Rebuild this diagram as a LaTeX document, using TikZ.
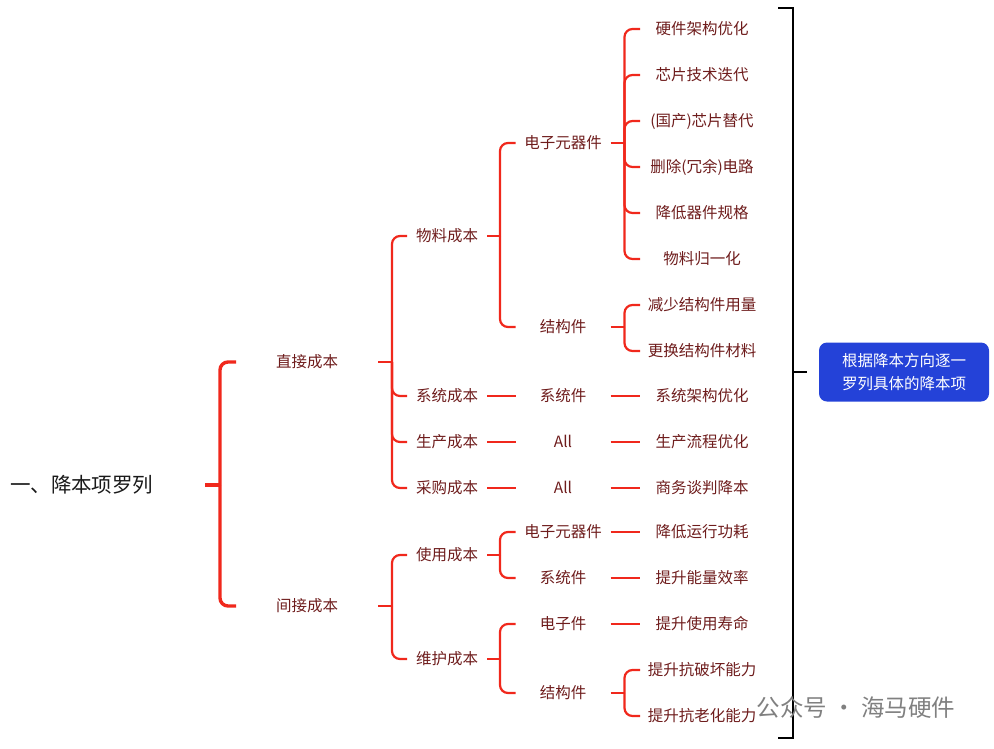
\documentclass[tikz,border=0pt]{standalone}
\usepackage{fontspec}
\setmainfont{Noto Sans CJK SC}
\usetikzlibrary{positioning}

\definecolor{linered}{RGB}{240,40,28}
\definecolor{textred}{RGB}{110,28,28}
\definecolor{noteblue}{RGB}{36,66,216}

\tikzset{
  branch/.style={draw=linered, line width=2.2pt, rounded corners=8pt},
  topic/.style={inner sep=0pt, outer sep=0pt, minimum height=26pt,
    text height=13pt, text depth=2pt, text=textred,
    font=\fontsize{15.5}{18}\selectfont},
  rootnode/.style={inner sep=0pt, outer sep=0pt, text width=195pt, align=left,
    text=black!90, font=\fontsize{20.5}{24}\selectfont},
  lvlone/.style={topic, minimum width=142pt},
  lvltwo/.style={topic, minimum width=80pt},
  lvlthree/.style={topic, minimum width=95pt},
  leaf/.style={topic, minimum width=124pt},
  note/.style={fill=noteblue, text=white, rounded corners=8pt, inner sep=0pt,
    minimum width=170pt, minimum height=59pt, align=center,
    font=\fontsize{15.5}{23}\selectfont},
  bkline/.style={draw=black, line width=2.2pt},
}

\begin{document}
\begin{tikzpicture}[x=1pt, y=-1pt]
  \useasboundingbox (0,0) rectangle (994,748);

  % root and first level
  \node[rootnode, anchor=west] (root) at (10,485) {一、降本项罗列};
  \node[lvlone] (zjcb) at (307,362) {直接成本};
  \node[lvlone] (jjcb) at (307,606) {间接成本};

  % direct cost
  \node[lvltwo] (wlcb) at (447,236) {物料成本};
  \node[lvltwo] (xtcb) at (447,396) {系统成本};
  \node[lvltwo] (sccb) at (447,442) {生产成本};
  \node[lvltwo] (cgcb) at (447,488) {采购成本};

  \node[lvlthree] (dzyqj) at (563,143) {电子元器件};
  \node[lvlthree] (jgj)   at (563,327) {结构件};
  \node[lvlthree] (xtj)   at (563,396) {系统件};
  \node[lvlthree] (scall) at (563,442) {All};
  \node[lvlthree] (cgall) at (563,488) {All};

  \node[leaf] (yj) at (702,29) {硬件架构优化};
  \node[leaf, below=20pt of yj] (xp) {芯片技术迭代};
  \node[leaf, below=20pt of xp] (gc) {(国产)芯片替代};
  \node[leaf, below=20pt of gc] (sc) {删除(冗余)电路};
  \node[leaf, below=20pt of sc] (jd) {降低器件规格};
  \node[leaf, below=20pt of jd] (gy) {物料归一化};
  \node[leaf, below=20pt of gy] (jsyl) {减少结构件用量};
  \node[leaf, below=20pt of jsyl] (ghcl) {更换结构件材料};
  \node[leaf, below=19pt of ghcl] (xtyh) {系统架构优化};
  \node[leaf, below=20pt of xtyh] (lcyh) {生产流程优化};
  \node[leaf, below=20pt of lcyh] (swtp) {商务谈判降本};

  % indirect cost
  \node[lvltwo] (sycb) at (447,555) {使用成本};
  \node[lvltwo] (whcb) at (447,659) {维护成本};

  \node[lvlthree] (sydz) at (563,532) {电子元器件};
  \node[lvlthree] (syxt) at (563,578) {系统件};
  \node[lvlthree] (whdz) at (563,624) {电子件};
  \node[lvlthree] (whjg) at (563,693) {结构件};

  \node[leaf] (gh) at (702,532) {降低运行功耗};
  \node[leaf, below=20pt of gh] (nl) {提升能量效率};
  \node[leaf, below=20pt of nl] (sm) {提升使用寿命};
  \node[leaf] (phh) at (702,670) {提升抗破坏能力};
  \node[leaf, below=20pt of phh] (lh) {提升抗老化能力};

  % summary note
  \node[note] (note) at (904,372) {根据降本方向逐一\\罗列具体的降本项};

  % red branches
  \draw[branch, line width=3.4pt] (root.east) -- ++(15,0) coordinate (root-j);
  \foreach \c in {zjcb,jjcb}
    \draw[branch, line width=3.4pt] (root-j) |- (\c.west);

  \draw[branch] (zjcb.east) -- ++(14,0) coordinate (zjcb-j);
  \foreach \c in {wlcb,xtcb,sccb,cgcb}
    \draw[branch] (zjcb-j) |- (\c.west);

  \draw[branch] (wlcb.east) -- ++(13,0) coordinate (wlcb-j);
  \foreach \c in {dzyqj,jgj}
    \draw[branch] (wlcb-j) |- (\c.west);

  \draw[branch] (dzyqj.east) -- ++(14,0) coordinate (dzyqj-j);
  \foreach \c in {yj,xp,gc,sc,jd,gy}
    \draw[branch] (dzyqj-j) |- (\c.west);

  \draw[branch] (jgj.east) -- ++(14,0) coordinate (jgj-j);
  \foreach \c in {jsyl,ghcl}
    \draw[branch] (jgj-j) |- (\c.west);

  \draw[branch] (xtcb) -- (xtj);
  \draw[branch] (xtj) -- (xtyh);
  \draw[branch] (sccb) -- (scall);
  \draw[branch] (scall) -- (lcyh);
  \draw[branch] (cgcb) -- (cgall);
  \draw[branch] (cgall) -- (swtp);

  \draw[branch] (jjcb.east) -- ++(14,0) coordinate (jjcb-j);
  \foreach \c in {sycb,whcb}
    \draw[branch] (jjcb-j) |- (\c.west);

  \draw[branch] (sycb.east) -- ++(13,0) coordinate (sycb-j);
  \foreach \c in {sydz,syxt}
    \draw[branch] (sycb-j) |- (\c.west);

  \draw[branch] (whcb.east) -- ++(13,0) coordinate (whcb-j);
  \foreach \c in {whdz,whjg}
    \draw[branch] (whcb-j) |- (\c.west);

  \draw[branch] (sydz) -- (gh);
  \draw[branch] (syxt) -- (nl);
  \draw[branch] (whdz) -- (sm);

  \draw[branch] (whjg.east) -- ++(14,0) coordinate (whjg-j);
  \foreach \c in {phh,lh}
    \draw[branch] (whjg-j) |- (\c.west);

  % black bracket to the note
  \coordinate (bk-top) at (778,8);
  \coordinate (bk-bot) at (778,738);
  \coordinate (bk-mid) at (793,372);
  \draw[bkline] (bk-top) -| (bk-mid) |- (bk-bot);
  \draw[bkline] (bk-mid) -- ([xshift=-12pt]note.west);

  % watermark
  \node[text=black!50, font=\fontsize{23.5}{26}\selectfont] (wm) at (856,708) {公众号 · 海马硬件};
\end{tikzpicture}
\end{document}
